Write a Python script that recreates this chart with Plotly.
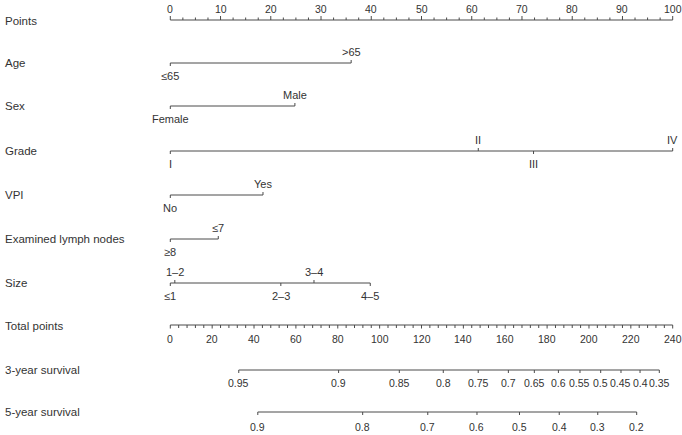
import plotly.graph_objects as go

# ---------------- data ----------------
points_labels = [0, 10, 20, 30, 40, 50, 60, 70, 80, 90, 100]
points_minor_step = 2.5

age_levels = ["≤65", ">65"]
age_points = [0, 36.0]
sex_levels = ["Female", "Male"]
sex_points = [0, 24.8]
grade_levels = ["I", "II", "III", "IV"]
grade_points = [0, 61.3, 72.3, 100]
vpi_levels = ["No", "Yes"]
vpi_points = [0, 18.45]
lymph_levels = ["≥8", "≤7"]
lymph_points = [0, 9.55]
size_levels = ["≤1", "1–2", "2–3", "3–4", "4–5"]
size_points = [0, 0.9, 22.0, 28.6, 39.8]

total_labels = [0, 20, 40, 60, 80, 100, 120, 140, 160, 180, 200, 220, 240]
total_minor_step = 4
total_max = 240

surv3_labels = ["0.95", "0.9", "0.85", "0.8", "0.75", "0.7", "0.65", "0.6",
                "0.55", "0.5", "0.45", "0.4", "0.35"]
surv3_total = [32.7, 80.4, 109.4, 130.4, 147.1, 161.5, 173.9, 185.4,
               195.7, 205.6, 215.3, 224.4, 233.6]
surv5_labels = ["0.9", "0.8", "0.7", "0.6", "0.5", "0.4", "0.3", "0.2"]
surv5_total = [41.8, 91.9, 123.0, 146.5, 166.8, 185.8, 204.2, 222.8]

# ---------------- style ----------------
W, H = 682, 435
LINE = "#4a4a4a"
TXT = "#333333"
FONT = "Liberation Sans, Arial, Helvetica, sans-serif"
FS_ROW = 11.5
FS_CAT = 11
FS_NUM = 10.5
X0_PX, PX_PER_PT = 170.3, 5.024
xr = [-X0_PX / PX_PER_PT, (W - X0_PX) / PX_PER_PT]

fig = go.Figure()
annotations = []


def to_pts(tp):
    return tp * 100.0 / total_max


def add_label(text, x, y, size):
    annotations.append(dict(x=x, y=y, xref="x", yref="y", text=text, showarrow=False,
                            xanchor="center", yanchor="middle",
                            font=dict(family=FONT, size=size, color=TXT)))


def add_row_label(text, y):
    annotations.append(dict(x=3 / W, y=y, xref="paper", yref="y", text=text, showarrow=False,
                            xanchor="left", yanchor="middle",
                            font=dict(family=FONT, size=FS_ROW, color=TXT)))


def add_segments(xs, ys):
    fig.add_trace(go.Scatter(x=xs, y=ys, mode="lines", hoverinfo="skip",
                             line=dict(color=LINE, width=1), showlegend=False))


# Points axis (ticks upward)
y_pts = 20
add_row_label("Points", 21)
xs, ys = [0, 100, None], [y_pts, y_pts, None]
n_minor = int(100 / points_minor_step)
for i in range(n_minor + 1):
    v = i * points_minor_step
    major = abs(v % 10) < 1e-9
    xs += [v, v, None]
    ys += [y_pts, y_pts - (4 if major else 2.5), None]
add_segments(xs, ys)
for v in points_labels:
    add_label(str(v), v, y_pts - 11.5, FS_NUM)

# Variable axes
variables = [
    ("Age", age_levels, age_points, 63),
    ("Sex", sex_levels, sex_points, 106),
    ("Grade", grade_levels, grade_points, 151),
    ("VPI", vpi_levels, vpi_points, 195),
    ("Examined lymph nodes", lymph_levels, lymph_points, 239),
    ("Size", size_levels, size_points, 283),
]
for name, levels, pts, y in variables:
    add_row_label(name, y)
    xs, ys = [min(pts), max(pts), None], [y, y, None]
    for i, (lab, p) in enumerate(zip(levels, pts)):
        below = (i % 2 == 0)
        xs += [p, p, None]
        ys += [y, y + (3 if below else -3), None]
        add_label(lab, p, y + 13 if below else y - 11, FS_CAT)
    add_segments(xs, ys)

# Total points axis (ticks downward)
y_tot = 325
add_row_label("Total points", 326)
xs, ys = [0, 100, None], [y_tot, y_tot, None]
for i in range(int(total_max / total_minor_step) + 1):
    v = i * total_minor_step
    major = abs(v % 20) < 1e-9
    xs += [to_pts(v), to_pts(v), None]
    ys += [y_tot, y_tot + (3.5 if major else 3), None]
add_segments(xs, ys)
for v in total_labels:
    add_label(str(v), to_pts(v), y_tot + 14, FS_NUM)

# Survival axes
for name, labels, tvals, y, off in [
    ("3-year survival", surv3_labels, surv3_total, 370, 13),
    ("5-year survival", surv5_labels, surv5_total, 412, 15),
]:
    add_row_label(name, y)
    px = [to_pts(t) for t in tvals]
    xs, ys = [min(px), max(px), None], [y, y, None]
    for lab, p in zip(labels, px):
        xs += [p, p, None]
        ys += [y, y + 3, None]
        add_label(lab, p, y + off, FS_NUM)
    add_segments(xs, ys)

fig.update_layout(
    width=W, height=H,
    margin=dict(l=0, r=0, t=0, b=0),
    paper_bgcolor="white", plot_bgcolor="white",
    xaxis=dict(range=xr, visible=False, fixedrange=True),
    yaxis=dict(range=[H, 0], visible=False, fixedrange=True),
    annotations=annotations,
    showlegend=False,
)

fig.write_html("out.html", config={"displayModeBar": False},
               post_script="document.body.style.margin='0';document.body.style.padding='0';")
